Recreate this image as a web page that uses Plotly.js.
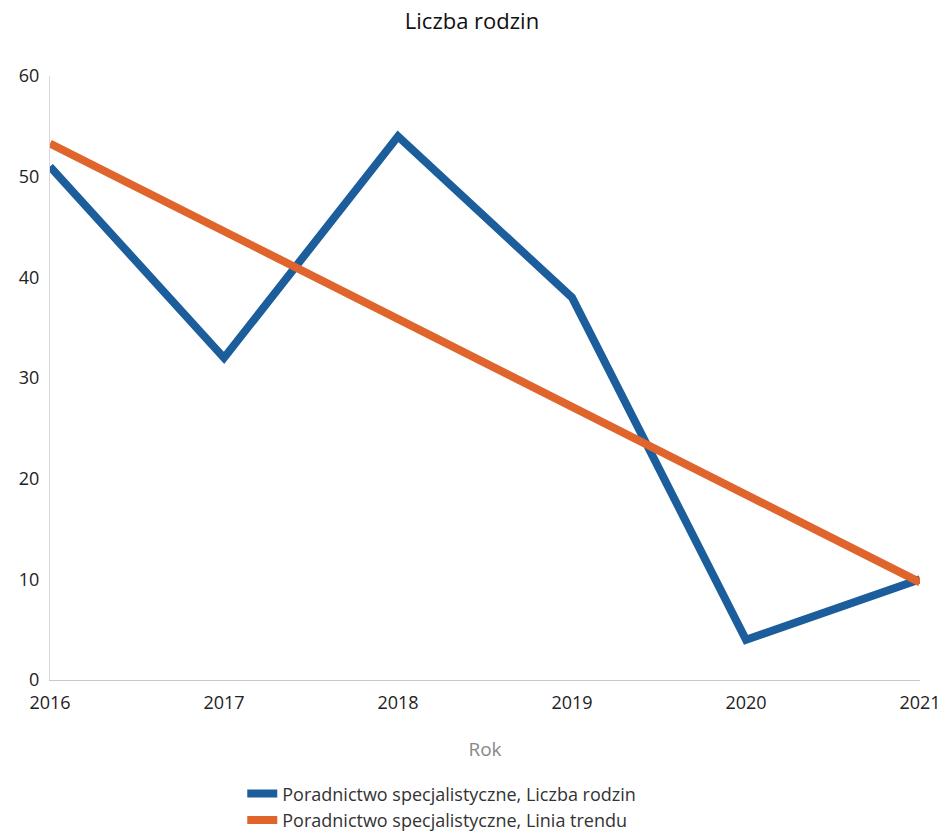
<!DOCTYPE html>
<html>
<head>
<meta charset="utf-8">
<script src="https://cdn.plot.ly/plotly-3.0.1.min.js"></script>
<style>html,body{margin:0;padding:0;background:#fff}#chart{width:944px;height:832px}</style>
</head>
<body>
<div id="chart"></div>
<script>
const years = ['2016', '2017', '2018', '2019', '2020', '2021'];
const liczbaRodzin = [51, 32, 54, 38, 4, 10];
const liniaTrendu = [53.3, 44.6, 35.9, 27.2, 18.4, 9.7];
const seriesNames = ['Poradnictwo specjalistyczne, Liczba rodzin', 'Poradnictwo specjalistyczne, Linia trendu'];
const yTicks = [0, 10, 20, 30, 40, 50, 60];

const font = '"Open Sans", "DejaVu Sans", sans-serif';

const traces = [
  {x: years, y: liczbaRodzin, name: seriesNames[0], type: 'scatter', mode: 'lines',
   line: {color: '#1c5d9c', width: 8, shape: 'linear'}},
  {x: years, y: liniaTrendu, name: seriesNames[1], type: 'scatter', mode: 'lines',
   line: {color: '#e0652c', width: 8}}
];

const layout = {
  width: 944, height: 832,
  margin: {l: 50, r: 24, t: 76, b: 152},
  paper_bgcolor: '#fff', plot_bgcolor: '#fff',
  font: {family: font, color: '#333', size: 16},
  title: {text: 'Liczba rodzin', x: 0.5, xanchor: 'center', y: 0.975, yanchor: 'middle',
          font: {family: font, size: 22, color: '#111'}},
  xaxis: {
    type: 'category', range: [0, 5], showgrid: false, zeroline: false,
    showline: true, linecolor: '#c8c8c8', linewidth: 1, ticks: '',
    tickfont: {size: 18, color: '#222'}, ticklabelstandoff: 6,
    title: {text: 'Rok', font: {size: 19, color: '#888'}, standoff: 30},
    automargin: false
  },
  yaxis: {
    range: [0, 60], tickvals: yTicks, showgrid: false, zeroline: false,
    showline: true, linecolor: '#d8d8d8', linewidth: 1, ticks: '',
    tickfont: {size: 18, color: '#222'}, ticklabelstandoff: 6,
    automargin: false
  },
  showlegend: true,
  legend: {orientation: 'v', x: 0.221, xanchor: 'left', yref: 'container', y: 0.068, yanchor: 'top',
           font: {size: 18, color: '#333'}, itemwidth: 30, tracegroupgap: 0,
           bgcolor: 'rgba(0,0,0,0)'}
};

Plotly.newPlot('chart', traces, layout, {displayModeBar: false, staticPlot: true});
</script>
</body>
</html>
